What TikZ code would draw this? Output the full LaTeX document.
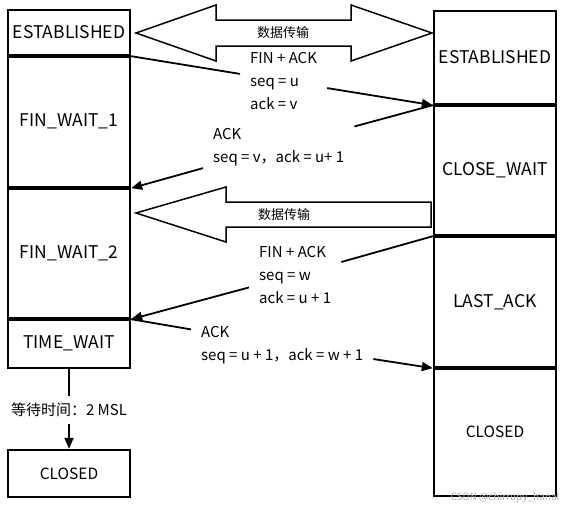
\documentclass[tikz,border=0pt]{standalone}
\usepackage{fontspec}
\setmainfont{Noto Sans CJK SC}
\usetikzlibrary{arrows.meta}

\tikzset{
  state/.style={draw, line width=2.4pt, minimum width=122pt, inner sep=0pt, font=\fontsize{17.5}{20}\selectfont},
  endstate/.style={state, font=\fontsize{15.5}{18}\selectfont},
  msg/.style={align=left, anchor=west, inner xsep=10pt, inner ysep=6pt, font=\fontsize{15}{23}\selectfont},
  flow/.style={line width=1.8pt, -{Triangle[length=11pt, width=9pt]}},
  bigarrow/.style={draw, line width=1.5pt, line join=miter},
  datalabel/.style={font=\fontsize{13}{15}\selectfont}
}

\begin{document}
\begin{tikzpicture}[x=1pt, y=-1pt]
			\useasboundingbox (0,0) rectangle (565,507);
			
			%%%%% client %%%%%
			\node[state, minimum height=45pt] (estL) at (69, 32.5) {ESTABLISHED};
			\node[state, minimum height=130.5pt] (finA) at (69, 121.75) {FIN\_WAIT\_1};
			\node[state, minimum height=129.5pt] (finB) at (69, 253.25) {FIN\_WAIT\_2};
			\node[state, minimum height=48.5pt] (timeW) at (69, 343.75) {TIME\_WAIT};
			\node[endstate, minimum height=47pt] (closedL) at (69, 473.5) {CLOSED};
			
			%%%%% server %%%%%
			\node[state, minimum height=93pt] (estR) at (495, 57.5) {ESTABLISHED};
			\node[state, minimum height=129.5pt] (closeW) at (495, 170.25) {CLOSE\_WAIT};
			\node[state, minimum height=130.5pt] (lastA) at (495, 301.75) {LAST\_ACK};
			\node[endstate, minimum height=127.5pt] (closedR) at (495, 432.25) {CLOSED};
			
			%%%%% data %%%%%
			\draw[bigarrow] (136,33) -- (216,5) -- (216,20) -- (351,20) -- (351,5) -- (432,33)
			  -- (351,61) -- (351,46) -- (216,46) -- (216,61) -- cycle;
			\node[datalabel] (dataA) at (283,33) {数据传输};
			
			\draw[bigarrow] (136,213) -- (226,187) -- (226,202) -- (431,202) -- (431,227)
			  -- (226,227) -- (226,242) -- cycle;
			\node[datalabel] (dataB) at (284,215) {数据传输};
			
			%%%%% messages %%%%%
			\node[msg] (msgA) at (240, 81) {FIN + ACK\\seq = u\\ack = v};
			\draw[line width=1.8pt] (estL.south east) -- (msgA);
			\draw[flow] (msgA) -- (estR.south west);
			
			\node[msg] (msgB) at (203, 147) {ACK\\seq = v，ack = u+ 1};
			\draw[line width=1.8pt] (estR.south west) -- (msgB);
			\draw[flow] (msgB) -- (finA.south east);
			
			\node[msg] (msgC) at (249, 275) {FIN + ACK\\seq = w\\ack = u + 1};
			\draw[line width=1.8pt] (closeW.south west) -- (msgC);
			\draw[flow] (msgC) -- (finB.south east);
			
			\node[msg] (msgD) at (191, 345) {ACK\\seq = u + 1，ack = w + 1};
			\draw[line width=1.8pt] (finB.south east) -- (msgD);
			\draw[flow] (msgD) -- (lastA.south west);
			
			%%%%% wait %%%%%
			\node[inner ysep=7pt, font=\fontsize{15}{18}\selectfont] (waitT) at (69, 410) {等待时间：2 MSL};
			\draw[line width=1.8pt] (timeW) -- (waitT);
			\draw[flow] (waitT) -- (closedL);
			
			\node[anchor=south east, text=black!30, font=\fontsize{10}{12}\selectfont] (mark) at (563, 506) {CSDN @chirrupy\_hanal};
			
			%%%%% END %%%%%
		\end{tikzpicture}
\end{document}
